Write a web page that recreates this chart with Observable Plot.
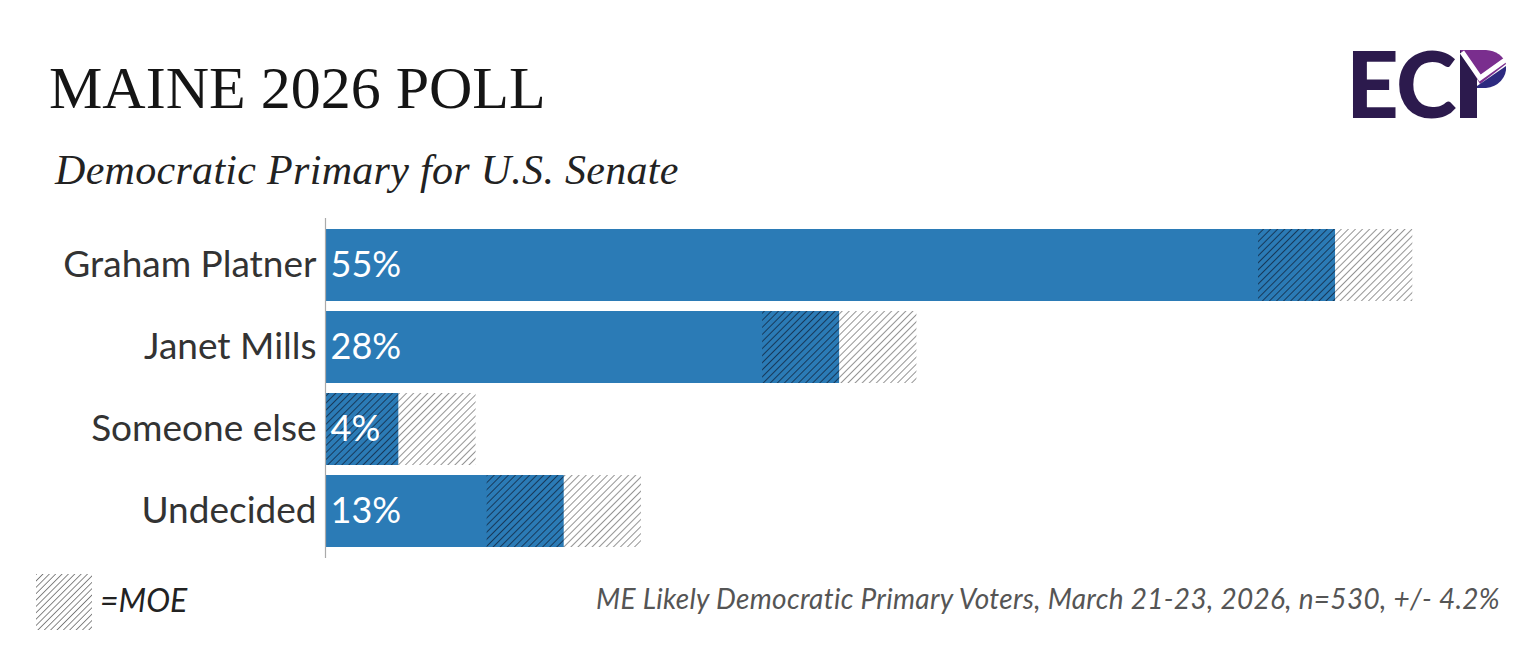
<!DOCTYPE html>
<html>
<head>
<meta charset="utf-8">
<script src="https://cdn.jsdelivr.net/npm/d3@7"></script>
<script src="https://cdn.jsdelivr.net/npm/@observablehq/plot@0.6"></script>
<style>
  html, body { margin: 0; padding: 0; background: #fff; }
  #page { position: relative; width: 1536px; height: 648px; overflow: hidden; background: #fff; }
  .abs { position: absolute; white-space: nowrap; line-height: 1; }
  #title { left: 49px; top: 58px; font-family: "Liberation Serif", serif; font-size: 60px; color: #151515; letter-spacing: 0px; }
  #subtitle { left: 55px; top: 149px; font-family: "Liberation Serif", serif; font-style: italic; font-size: 42px; color: #222; letter-spacing: 0.3px; }
  #chart { left: 0; top: 205px; }
  #moe { left: 100px; top: 584px; font-family: "Lato", sans-serif; font-style: italic; font-size: 32px; color: #222; }
  #note { right: 36px; top: 584px; font-family: "Lato", sans-serif; font-style: italic; font-size: 28px; color: #555; letter-spacing: 0.3px; }
  #legend { left: 36px; top: 574px; }
  #logo { left: 1346px; top: 22px; }
</style>
</head>
<body>
<div id="page">
  <div id="title" class="abs">MAINE 2026 POLL</div>
  <div id="subtitle" class="abs">Democratic Primary for U.S. Senate</div>
  <svg id="logo" class="abs" width="170" height="124" viewBox="0 0 170 124">
    <text x="0" y="96" font-family="Lato, sans-serif" font-weight="900" font-size="92" fill="#2c1a4d">E</text>
    <text x="50" y="96" font-family="Lato, sans-serif" font-weight="900" font-size="92" fill="#2c1a4d">C</text>
    <rect x="114" y="28" width="17" height="68" fill="#2c1a4d"/>
    <path d="M114,28 L140,28 A22,18 0 0 1 160,42 L134,62 Z" fill="#7a2e8e"/>
    <path d="M160,44 A22,20 0 0 1 140,66 L131,66 L131,64 Z" fill="#2d2a80"/>
    <path d="M116,30 L134,56 L162,36" fill="none" stroke="#fff" stroke-width="5"/>
  </svg>
  <div id="chart" class="abs"></div>
  <svg id="legend" class="abs" width="56" height="56">
    <defs>
      <pattern id="legHatch" patternUnits="userSpaceOnUse" width="4.5" height="4.5" patternTransform="rotate(45)">
        <rect width="4.5" height="4.5" fill="#fff"/>
        <line x1="0" y1="0" x2="0" y2="4.5" stroke="#555" stroke-width="1.4"/>
      </pattern>
    </defs>
    <rect width="56" height="56" fill="url(#legHatch)"/>
  </svg>
  <div id="moe" class="abs">=MOE</div>
  <div id="note" class="abs">ME Likely Democratic Primary Voters, March 21-23, 2026, n=530, +/- 4.2%</div>
</div>
<script>
const candidates = ["Graham Platner", "Janet Mills", "Someone else", "Undecided"];
const values = [55, 28, 4, 13];
const moe = 4.2;

const data = candidates.map((name, i) => ({
  name,
  value: values[i],
  lo: Math.max(0, values[i] - moe),
  hi: values[i] + moe,
  label: values[i] + "%"
}));

const plot = Plot.plot({
  width: 1536,
  height: 360,
  marginLeft: 325,
  marginRight: 109,
  marginTop: 13,
  marginBottom: 7,
  style: { fontFamily: "Lato, sans-serif", fontSize: "37px", color: "#333", background: "transparent" },
  x: { domain: [0, 60], axis: null },
  y: { domain: candidates, padding: 0.12, label: null, tickSize: 0, tickPadding: 9 },
  marks: [
    Plot.barX(data, { x: "value", y: "name", fill: "#2b7bb6" }),
    Plot.barX(data, { x1: "lo", x2: "value", y: "name", fill: "url(#hatchDark)" }),
    Plot.barX(data, { x1: "value", x2: "hi", y: "name", fill: "url(#hatchLight)" }),
    Plot.ruleX([0], { stroke: "#aaa", strokeWidth: 1.2 }),
    Plot.text(data, { x: 0, y: "name", text: "label", dx: 5, textAnchor: "start", fill: "#fff", fontSize: 36 })
  ]
});

const svg = d3.select(plot);
const defs = svg.insert("defs", ":first-child");
const dark = defs.append("pattern").attr("id", "hatchDark").attr("patternUnits", "userSpaceOnUse")
  .attr("width", 5).attr("height", 5).attr("patternTransform", "rotate(45)");
dark.append("rect").attr("width", 5).attr("height", 5).attr("fill", "#2b7bb6");
dark.append("line").attr("x1", 0).attr("y1", 0).attr("x2", 0).attr("y2", 5).attr("stroke", "#17395a").attr("stroke-width", 2);
const light = defs.append("pattern").attr("id", "hatchLight").attr("patternUnits", "userSpaceOnUse")
  .attr("width", 5).attr("height", 5).attr("patternTransform", "rotate(45)");
light.append("rect").attr("width", 5).attr("height", 5).attr("fill", "#fff");
light.append("line").attr("x1", 0).attr("y1", 0).attr("x2", 0).attr("y2", 5).attr("stroke", "#666").attr("stroke-width", 1.4);

document.getElementById("chart").appendChild(plot);
</script>
</body>
</html>
